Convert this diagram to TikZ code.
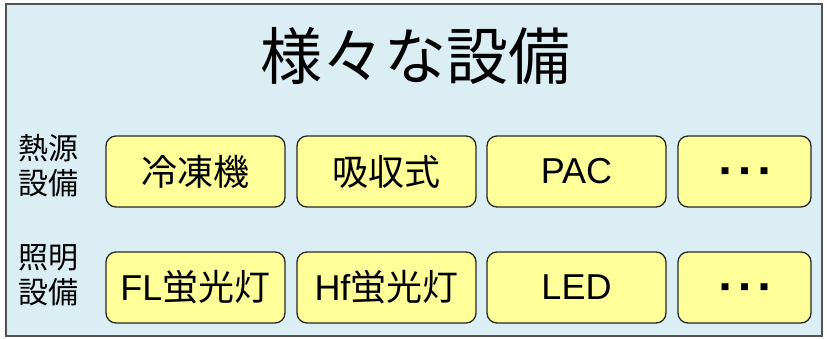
\documentclass[tikz,border=0pt]{standalone}
\usepackage{fontspec}
\setmainfont{Liberation Sans}
\newfontfamily\jpfont{Noto Sans CJK JP}
\newfontfamily\simbolos{DejaVu Sans}
\definecolor{fondoazul}{RGB}{218,238,243}
\definecolor{cajaamarilla}{RGB}{255,255,153}
\definecolor{bordegris}{RGB}{40,40,40}
\newcommand{\puntos}{{\simbolos\fontsize{9}{9}\selectfont ■\kern11pt■\kern11pt■}}
\begin{document}
\begin{tikzpicture}[x=1pt, y=-1pt,
    caja/.style={draw=bordegris, fill=cajaamarilla, rounded corners=10pt, line width=1.3pt,
      minimum width=179pt, minimum height=71pt, inner sep=0pt,
      font=\fontsize{36}{38}\selectfont},
    etiqueta/.style={align=center, font=\jpfont\fontsize{30}{35}\selectfont}]

    \useasboundingbox (0,0) rectangle (827,339);

    % Marco exterior
    \filldraw[fill=fondoazul, draw=bordegris!80, line width=2pt] (6,4) rectangle (822,336);

    % Titulo
    \node[font=\jpfont\fontsize{62}{64}\selectfont] (titulo) at (415,56) {様々な設備};

    % Etiquetas de las filas
    \node[etiqueta] (calor) at (48,166) {熱源\\設備};
    \node[etiqueta] (luz) at (48,275) {照明\\設備};

    % Fila de equipos de calor
    \node[caja] (refrig) at (195.5,171.5) {\jpfont 冷凍機};
    \node[caja] (absorc) at (386.5,171.5) {\jpfont 吸収式};
    \node[caja] (pac) at (576.5,171.5) {PAC};
    \node[caja, minimum width=133pt] (otrosA) at (744.5,171.5) {\puntos};

    % Fila de iluminacion
    \node[caja] (fl) at (195.5,287.5) {FL{\jpfont 蛍光灯}};
    \node[caja] (hf) at (386.5,287.5) {Hf{\jpfont 蛍光灯}};
    \node[caja] (led) at (576.5,287.5) {LED};
    \node[caja, minimum width=133pt] (otrosB) at (744.5,287.5) {\puntos};

  \end{tikzpicture}
\end{document}
